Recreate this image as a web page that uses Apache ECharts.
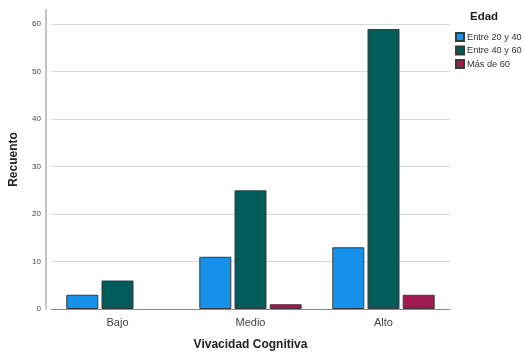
<!DOCTYPE html>
<html><head><meta charset="utf-8">
<script src="https://cdn.jsdelivr.net/npm/echarts@6/dist/echarts.min.js"></script>
<style>html,body{margin:0;padding:0;background:#fff}#c{width:524px;height:356px}</style>
</head><body><div id="c"></div>
<script>
const categories = ['Bajo', 'Medio', 'Alto'];
const seriesNames = ['Entre 20 y 40', 'Entre 40 y 60', 'Más de 60'];
const entre20y40 = [3, 11, 13];
const entre40y60 = [6, 25, 59];
const masDe60 = [0, 1, 3];
const colors = ['#1591ea', '#005b5b', '#9e1a50'];
const values = [entre20y40, entre40y60, masDe60];

const chart = echarts.init(document.getElementById('c'), null, {renderer: 'canvas'});
chart.setOption({
  animation: false,
  title: {
    text: 'Edad', left: 470, top: 11, padding: 0,
    textStyle: {fontFamily: 'Arial, Liberation Sans', fontSize: 11.5, fontWeight: 'bold', color: '#222'}
  },
  legend: {
    orient: 'vertical', left: 455, top: 32, itemWidth: 8, itemHeight: 8, itemGap: 3.5,
    icon: 'rect', padding: 0,
    data: seriesNames,
    textStyle: {fontFamily: 'Arial, Liberation Sans', fontSize: 9.2, lineHeight: 9, color: '#333', padding: [0, 0, 0, -2]}
  },
  grid: {left: 47, right: 74, top: 10, bottom: 46},
  xAxis: {
    type: 'category', data: categories,
    name: 'Vivacidad Cognitiva', nameLocation: 'middle', nameGap: 30,
    nameTextStyle: {fontFamily: 'Arial, Liberation Sans', fontSize: 12, fontWeight: 'bold', color: '#222'},
    axisLine: {lineStyle: {color: '#888', width: 1}},
    axisTick: {show: false},
    axisLabel: {fontFamily: 'Arial, Liberation Sans', fontSize: 11, color: '#444', margin: 8}
  },
  yAxis: {
    type: 'value', min: 0, max: 63, interval: 10, offset: 5,
    name: 'Recuento', nameLocation: 'middle', nameGap: 26,
    nameTextStyle: {fontFamily: 'Arial, Liberation Sans', fontSize: 12, fontWeight: 'bold', color: '#222'},
    axisLine: {show: true, lineStyle: {color: '#c4c4c4', width: 2}},
    axisTick: {show: false},
    axisLabel: {fontFamily: 'Arial, Liberation Sans', fontSize: 8, color: '#444', margin: 5, showMaxLabel: false},
    splitLine: {show: true, showMinLine: false, showMaxLine: false, lineStyle: {color: '#d9d9d9', width: 1}}
  },
  series: values.map((v, i) => ({
    name: seriesNames[i], type: 'bar',
    data: v.map(x => (x === 0 ? null : x)),
    barWidth: 32, barGap: '10%',
    itemStyle: {color: colors[i], borderColor: '#3a3a3a', borderWidth: 1}
  }))
});
</script></body></html>
